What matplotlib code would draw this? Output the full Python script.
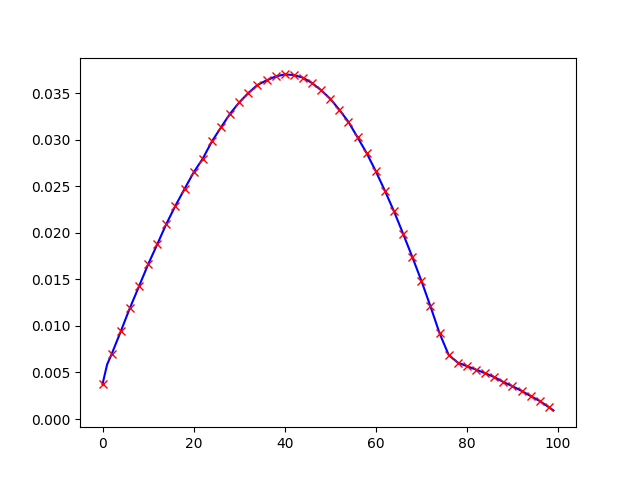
import matplotlib
matplotlib.use("Agg")
import matplotlib.pyplot as plt
import numpy as np

# sampled points (red markers)
x_marks = list(range(0, 100, 2))
y_marks = [0.00376, 0.00698, 0.00941, 0.01192, 0.01424, 0.0166, 0.01875, 0.02094, 0.0229, 0.0247,
           0.02648, 0.02795, 0.0298, 0.03131, 0.03278, 0.03399, 0.035, 0.03586, 0.03636, 0.03678,
           0.0370, 0.03693, 0.03665, 0.03607, 0.03530, 0.03438, 0.0332, 0.03189, 0.03023, 0.02854,
           0.02660, 0.0245, 0.02229, 0.01988, 0.01741, 0.01485, 0.01209, 0.0092, 0.00688, 0.00606,
           0.00568, 0.00531, 0.00492, 0.00451, 0.00398, 0.00353, 0.00302, 0.00247, 0.00193, 0.00127]

# continuous curve (blue line): steep start near x=1 and one step beyond last marker
x_line = [0, 1] + x_marks[1:] + [99]
y_line = [y_marks[0], 0.00585] + y_marks[1:] + [0.00093]

fig, ax = plt.subplots(figsize=(6.4, 4.8), dpi=100)
ax.plot(x_line, y_line, color='b')
ax.plot(x_marks, y_marks, 'rx')
fig.savefig("out.png")
